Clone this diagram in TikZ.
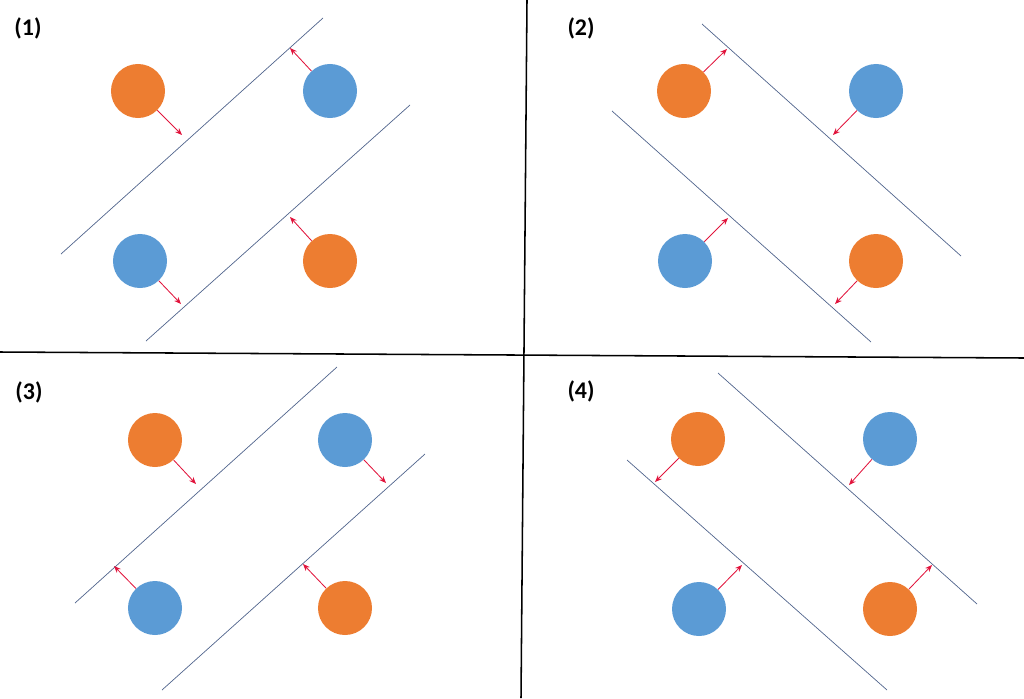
\documentclass[tikz,border=0pt]{standalone}
\usepackage{fontspec}
\setmainfont{Carlito}
\usetikzlibrary{arrows.meta}
\definecolor{oball}{RGB}{237,125,49}
\definecolor{bball}{RGB}{91,155,213}
\definecolor{sepl}{RGB}{80,100,140}
\definecolor{arr}{RGB}{225,20,60}
\begin{document}
\begin{tikzpicture}[x=0.025cm,y=-0.025cm,
  orb/.style={circle,fill=oball,minimum size=1.35cm,inner sep=0pt},
  blb/.style={circle,fill=bball,minimum size=1.35cm,inner sep=0pt},
  sep/.style={draw=sepl,line width=0.5pt},
  push/.style={draw=arr,line width=0.6pt,-{Stealth[length=5pt,width=4pt]}},
  lab/.style={font=\fontsize{17}{20}\selectfont\bfseries,inner sep=0pt},
  divider/.style={draw=black,line width=1.1pt}]
\useasboundingbox (0,0) rectangle (1024,698);
% dividers
\coordinate (vt) at (527,0); \coordinate (vb) at (521,698);
\coordinate (hl) at (0,352); \coordinate (hr) at (1024,358);
\draw[divider] (vt) -- (vb);
\draw[divider] (hl) -- (hr);
% ---------- panel 1
\node[lab] (l1) at (28,28) {(1)};
\node[orb] (p1a) at (138,91) {};
\node[blb] (p1b) at (330,91) {};
\node[blb] (p1c) at (140,261) {};
\node[orb] (p1d) at (330,261) {};
\coordinate (p1s1) at (61,254); \coordinate (p1e1) at (323,18);
\coordinate (p1s2) at (146,341); \coordinate (p1e2) at (410,105);
\draw[sep] (p1s1) -- (p1e1);
\draw[sep] (p1s2) -- (p1e2);
\coordinate (p1ta) at (182,135);
\coordinate (p1tb) at (290,48);
\coordinate (p1tc) at (181,304);
\coordinate (p1td) at (290,217);
\draw[push] (p1a) -- (p1ta);
\draw[push] (p1b) -- (p1tb);
\draw[push] (p1c) -- (p1tc);
\draw[push] (p1d) -- (p1td);
% ---------- panel 2
\node[lab] (l2) at (581,28) {(2)};
\node[orb] (p2a) at (684,91) {};
\node[blb] (p2b) at (876,91) {};
\node[blb] (p2c) at (685,261) {};
\node[orb] (p2d) at (876,261) {};
\coordinate (p2s1) at (702,24); \coordinate (p2e1) at (961,256);
\coordinate (p2s2) at (612,111); \coordinate (p2e2) at (871,342);
\draw[sep] (p2s1) -- (p2e1);
\draw[sep] (p2s2) -- (p2e2);
\coordinate (p2ta) at (727,49);
\coordinate (p2tb) at (833,135);
\coordinate (p2tc) at (728,218);
\coordinate (p2td) at (835,304);
\draw[push] (p2a) -- (p2ta);
\draw[push] (p2b) -- (p2tb);
\draw[push] (p2c) -- (p2tc);
\draw[push] (p2d) -- (p2td);
% ---------- panel 3
\node[lab] (l3) at (29,392) {(3)};
\node[orb] (p3a) at (155,440) {};
\node[blb] (p3b) at (345,440) {};
\node[blb] (p3c) at (155,608) {};
\node[orb] (p3d) at (345,608) {};
\coordinate (p3s1) at (75,603); \coordinate (p3e1) at (337,367);
\coordinate (p3s2) at (162,690); \coordinate (p3e2) at (425,454);
\draw[sep] (p3s1) -- (p3e1);
\draw[sep] (p3s2) -- (p3e2);
\coordinate (p3ta) at (196,484);
\coordinate (p3tb) at (386,483);
\coordinate (p3tc) at (114,566);
\coordinate (p3td) at (303,564);
\draw[push] (p3a) -- (p3ta);
\draw[push] (p3b) -- (p3tb);
\draw[push] (p3c) -- (p3tc);
\draw[push] (p3d) -- (p3td);
% ---------- panel 4
\node[lab] (l4) at (581,391) {(4)};
\node[orb] (p4a) at (698,439) {};
\node[blb] (p4b) at (890,439) {};
\node[blb] (p4c) at (699,609) {};
\node[orb] (p4d) at (890,609) {};
\coordinate (p4s1) at (718,373); \coordinate (p4e1) at (977,604);
\coordinate (p4s2) at (627,460); \coordinate (p4e2) at (887,690);
\draw[sep] (p4s1) -- (p4e1);
\draw[sep] (p4s2) -- (p4e2);
\coordinate (p4ta) at (655,482);
\coordinate (p4tb) at (849,485);
\coordinate (p4tc) at (742,565);
\coordinate (p4td) at (932,565);
\draw[push] (p4a) -- (p4ta);
\draw[push] (p4b) -- (p4tb);
\draw[push] (p4c) -- (p4tc);
\draw[push] (p4d) -- (p4td);
\end{tikzpicture}
\end{document}
